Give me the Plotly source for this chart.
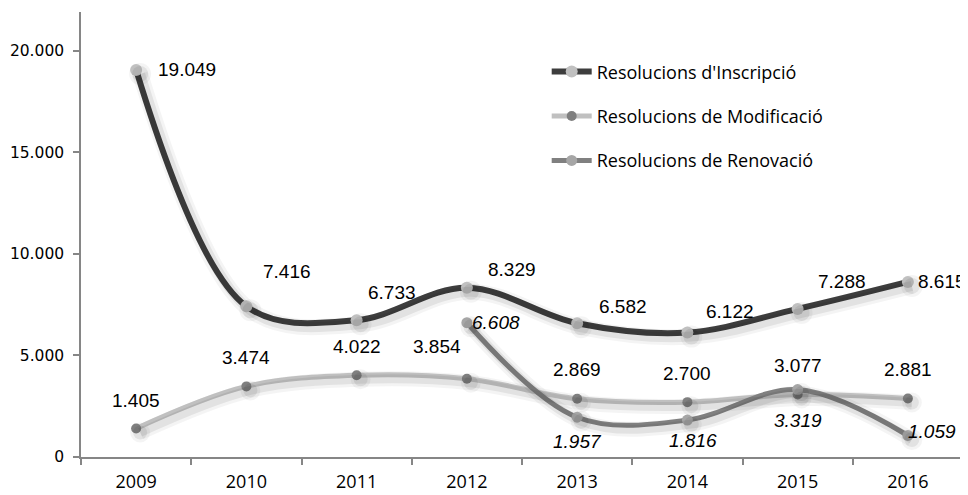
import plotly.graph_objects as go

years = ["2009", "2010", "2011", "2012", "2013", "2014", "2015", "2016"]
inscripcio = [19049, 7416, 6733, 8329, 6582, 6122, 7288, 8615]
modificacio = [1405, 3474, 4022, 3854, 2869, 2700, 3077, 2881]
renovacio = [None, None, None, 6608, 1957, 1816, 3319, 1059]
series_names = ["Resolucions d'Inscripció", "Resolucions de Modificació", "Resolucions de Renovació"]
y_tickvals = [0, 5000, 10000, 15000, 20000]
y_ticktext = ["0", "5.000", "10.000", "15.000", "20.000"]

# label pixel offsets (center of label relative to its point)
ins_off = [(51, 0), (41, 35), (35, 28), (45, 18), (46, 17), (43, 21), (44, 27), (34, 0)]
mod_off = [(0, 28), (0, 29), (0, 29), (-30, 32), (0, 29), (0, 29), (0, 29), (0, 29)]
ren_off = [None, None, None, (29, 0), (0, -24), (6, -20), (0, -31), (24, 4)]

xi = list(range(len(years)))
Y_MAX = 21900
# page has an 8px body margin; figure sized/offset to compensate
W, H = 960, 487
L, R, T, B = 73, 5, 4, 38
pw = W - L - R
ph = H - T - B
px_x = len(years) / pw      # category units per pixel
px_y = Y_MAX / ph           # value units per pixel

styles = [
    dict(line="#3d3d3d", marker="#c0c0c0", width=6, msize=12),
    dict(line="#c0c0c0", marker="#7f7f7f", width=5, msize=10),
    dict(line="#808080", marker="#a6a6a6", width=5, msize=11),
]
data = [inscripcio, modificacio, renovacio]

fig = go.Figure()

# carrier trace for visible base axes
fig.add_trace(go.Scatter(x=xi, y=[None] * len(xi), mode="lines", showlegend=False,
                         hoverinfo="skip", xaxis="x", yaxis="y"))

# soft shadows (two layers)
shadow_layers = [("x2", "y2", 10, 0.045), ("x4", "y4", 4, 0.07)]
for xa, ya, extra, alpha in shadow_layers:
    for vals, st in zip(data, styles):
        fig.add_trace(go.Scatter(
            x=xi, y=vals, mode="lines+markers", showlegend=False, hoverinfo="skip",
            line=dict(color=f"rgba(0,0,0,{alpha})", width=st["width"] + extra, shape="spline", smoothing=1.0),
            marker=dict(color=f"rgba(0,0,0,{alpha})", size=st["msize"] + extra),
            xaxis=xa, yaxis=ya))

# main series
for name, vals, st in zip(series_names, data, styles):
    fig.add_trace(go.Scatter(
        x=xi, y=vals, name=name, mode="lines+markers", legendgroup=name,
        line=dict(color=st["line"], width=st["width"], shape="spline", smoothing=1.0),
        marker=dict(color=st["marker"], size=st["msize"]),
        xaxis="x3", yaxis="y3"))

def fmt(v):
    return f"{v:,}".replace(",", ".")

ann = []
for vals, offs, italic in [(inscripcio, ins_off, False), (modificacio, mod_off, False), (renovacio, ren_off, True)]:
    for i, v in enumerate(vals):
        if v is None:
            continue
        dx, dy = offs[i]
        t = fmt(v)
        if italic:
            t = f"<i>{t}</i>"
        ann.append(dict(x=xi[i], y=v, xref="x", yref="y", text=t, showarrow=False,
                        xshift=dx, yshift=dy, xanchor="center", yanchor="middle",
                        font=dict(family="Liberation Sans, Arial", size=19, color="#000000")))

xr = [-0.5, len(years) - 0.5]
yr = [0, Y_MAX]
sx, sy = 4, 4
fig.update_layout(
    width=W, height=H,
    margin=dict(l=L, r=R, t=T, b=B, autoexpand=False),
    paper_bgcolor="white", plot_bgcolor="white",
    showlegend=True,
    legend=dict(x=0.528, y=0.907, xanchor="left", yanchor="top",
                font=dict(family="Open Sans", size=18, color="#000000"),
                bgcolor="rgba(0,0,0,0)", tracegroupgap=18, itemwidth=40),
    annotations=ann,
    xaxis=dict(range=xr, tickmode="array", tickvals=xi, ticktext=years, ticks="",
               showgrid=False, zeroline=False, showline=True, linecolor="#868686", linewidth=1.5,
               tickfont=dict(family="Open Sans", size=18, color="#000000"),
               ticklabelstandoff=8,
               minor=dict(tickmode="array", tickvals=[i - 0.5 for i in range(len(years) + 1)],
                          ticks="outside", ticklen=6, tickcolor="#868686", tickwidth=1.5, showgrid=False),
               fixedrange=True),
    yaxis=dict(range=yr, tickmode="array", tickvals=y_tickvals, ticktext=y_ticktext,
               ticks="outside", ticklen=6, tickcolor="#868686", tickwidth=1.5,
               showgrid=False, zeroline=False, showline=True, linecolor="#868686", linewidth=1.5,
               tickfont=dict(family="DejaVu Sans", size=15.5, color="#000000"),
               ticklabelstandoff=6, fixedrange=True),
    xaxis2=dict(range=[xr[0] - sx * px_x, xr[1] - sx * px_x], overlaying="x", visible=False, fixedrange=True),
    yaxis2=dict(range=[yr[0] + sy * px_y, yr[1] + sy * px_y], overlaying="y", visible=False, fixedrange=True),
    xaxis4=dict(range=[xr[0] - sx * px_x, xr[1] - sx * px_x], overlaying="x", visible=False, fixedrange=True),
    yaxis4=dict(range=[yr[0] + sy * px_y, yr[1] + sy * px_y], overlaying="y", visible=False, fixedrange=True),
    xaxis3=dict(range=xr, overlaying="x", visible=False, fixedrange=True),
    yaxis3=dict(range=yr, overlaying="y", visible=False, fixedrange=True),
)

fig.write_html("out.html")
